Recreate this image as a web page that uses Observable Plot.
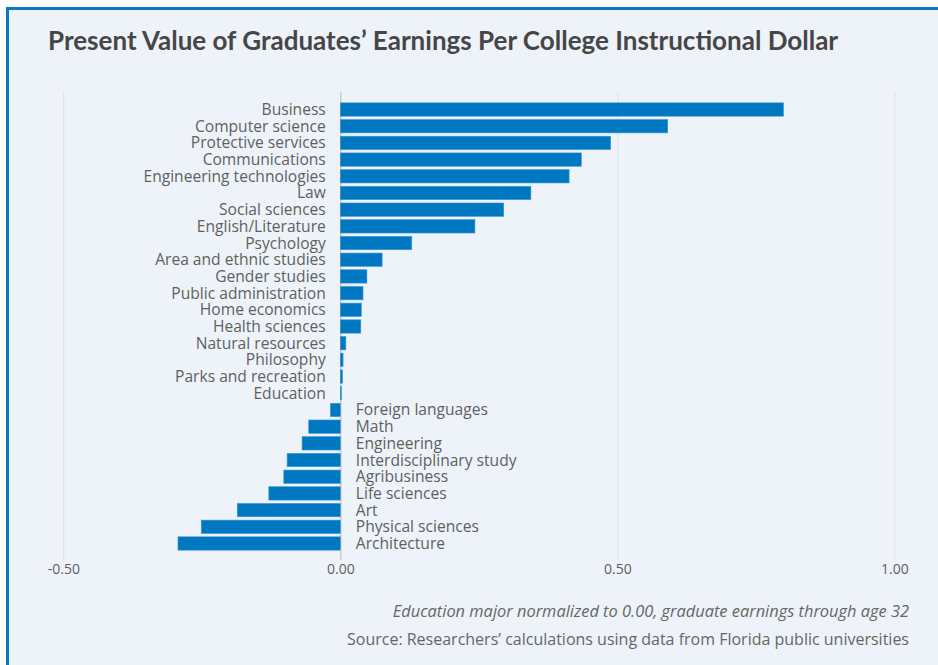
<!DOCTYPE html>
<html>
<head>
<meta charset="utf-8">
<script src="https://cdn.jsdelivr.net/npm/d3@7"></script>
<script src="https://cdn.jsdelivr.net/npm/@observablehq/plot@0.6"></script>
<style>
  html, body { margin: 0; padding: 0; background: #ffffff; overflow: hidden; }
  #page { position: relative; width: 938px; height: 665px; overflow: hidden; font-family: "Open Sans", Lato, sans-serif; }
  #frame { position: absolute; left: 6px; top: 7px; width: 1000px; height: 700px; border: 3px solid #0878c3; background: #eef3f9; }
  #title { position: absolute; left: 48px; top: 24px; font-family: Lato, sans-serif; font-size: 26px; font-weight: 700; color: #464646; white-space: nowrap; }
  #note { position: absolute; right: 29px; top: 599px; font-size: 16.4px; font-style: italic; color: #666; white-space: nowrap; }
  #source { position: absolute; right: 29px; top: 628px; font-size: 16px; color: #666; white-space: nowrap; }
  #chart { position: absolute; left: 0; top: 0; }
</style>
</head>
<body>
<div id="page">
  <div id="frame"></div>
  <div id="title">Present Value of Graduates’ Earnings Per College Instructional Dollar</div>
  <div id="chart"></div>
  <div id="note">Education major normalized to 0.00, graduate earnings through age 32</div>
  <div id="source">Source: Researchers’ calculations using data from Florida public universities</div>
</div>
<script>
const categories = [
  "Business", "Computer science", "Protective services", "Communications",
  "Engineering technologies", "Law", "Social sciences", "English/Literature",
  "Psychology", "Area and ethnic studies", "Gender studies", "Public administration",
  "Home economics", "Health sciences", "Natural resources", "Philosophy",
  "Parks and recreation", "Education", "Foreign languages", "Math", "Engineering",
  "Interdisciplinary study", "Agribusiness", "Life sciences", "Art",
  "Physical sciences", "Architecture"
];
const values = [
  0.800, 0.591, 0.488, 0.435,
  0.413, 0.344, 0.295, 0.243,
  0.129, 0.0755, 0.048, 0.041,
  0.038, 0.037, 0.010, 0.005,
  0.004, 0.002, -0.018, -0.057, -0.069,
  -0.096, -0.102, -0.129, -0.186,
  -0.251, -0.293
];
const xTicks = [-0.5, 0, 0.5, 1.0];

const data = categories.map((c, i) => ({category: c, value: values[i]}));
const fmt = d => d3.format(".2f")(d).replace("\u2212", "-");

const chart = Plot.plot({
  width: 938,
  height: 600,
  marginLeft: 63.3,
  marginRight: 43.7,
  marginTop: 99.5,
  marginBottom: 46.5,
  style: {background: "transparent", fontFamily: "'Open Sans', Lato, sans-serif"},
  x: {domain: [-0.5, 1.0], axis: null},
  y: {domain: categories, axis: null, padding: 0.2, round: false},
  marks: [
    Plot.ruleX(xTicks.filter(d => d !== 0), {x: d => d, stroke: "#dfe3e8", strokeWidth: 1.2, insetTop: -7.5, insetBottom: -6}),
    Plot.ruleX([0], {stroke: "#bfc3c8", strokeWidth: 1.2, insetTop: -7.5, insetBottom: -6}),
    Plot.barX(data, {x: "value", y: "category", fill: "#0078c1", stroke: "#3f97d4", strokeWidth: 0.6}),
    Plot.text(data.filter(d => d.value >= 0), {x: 0, y: "category", text: "category", textAnchor: "end", dx: -15, fontSize: 15.6, fill: "#5f5f5f"}),
    Plot.text(data.filter(d => d.value < 0), {x: 0, y: "category", text: "category", textAnchor: "start", dx: 15, fontSize: 15.6, fill: "#5f5f5f"}),
    Plot.text(xTicks, {x: d => d, frameAnchor: "bottom", dy: 20, text: d => fmt(d), fontSize: 14, fill: "#5f5f5f"})
  ]
});
document.getElementById("chart").appendChild(chart);
</script>
</body>
</html>
